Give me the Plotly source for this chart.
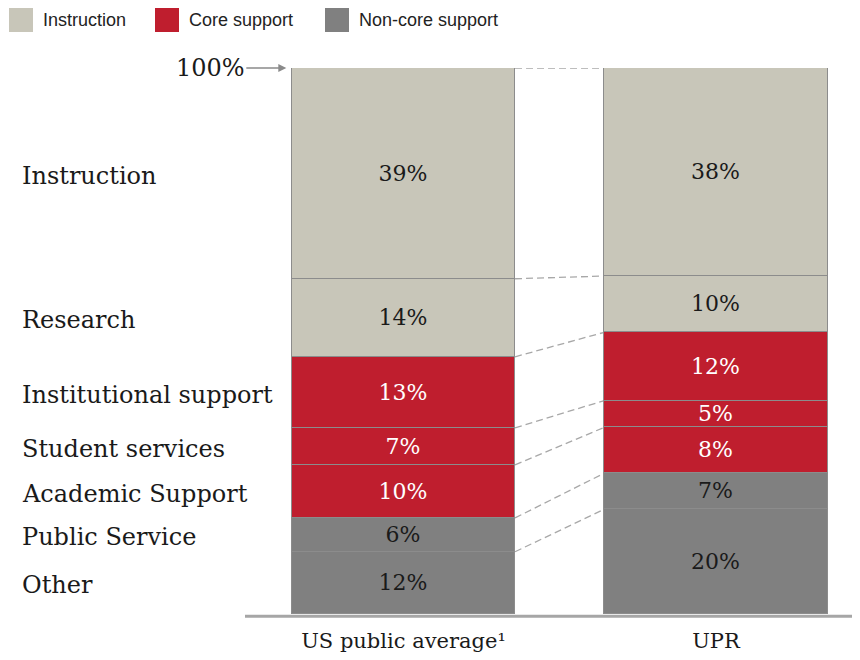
import numpy as np
import plotly.graph_objects as go

# ---------------- data ----------------
bars = ["US public average¹", "UPR"]
# categories from bottom of stack to top
categories = ["Other", "Public Service", "Academic Support", "Student services",
              "Institutional support", "Research", "Instruction"]
groups = ["Non-core support", "Non-core support", "Core support", "Core support",
          "Core support", "Instruction", "Instruction"]
us_values = [11.4, 6.2, 9.7, 6.8, 13.0, 14.3, 38.6]
upr_values = [19.2, 6.6, 8.4, 4.9, 12.5, 10.3, 38.1]
us_labels = ["12%", "6%", "10%", "7%", "13%", "14%", "39%"]
upr_labels = ["20%", "7%", "8%", "5%", "12%", "10%", "38%"]
legend_items = ["Instruction", "Core support", "Non-core support"]

# ---------------- style ----------------
colors = {"Instruction": "#C8C6B9", "Core support": "#BF1E2E", "Non-core support": "#808080"}
text_colors = {"Instruction": "#1a1a1a", "Core support": "#ffffff", "Non-core support": "#1a1a1a"}
SERIF = "DejaVu Serif, Georgia, serif"
SANS = "Liberation Sans, Arial, sans-serif"
OFF = 8  # page body margin
W, H = 860 - OFF, 660 - OFF
ML, MT = 248 - OFF, 68 - OFF
PB = 614 - OFF          # plot bottom (figure px)
PR = 860 - OFF          # plot right (figure px)
MR, MB = W - PR, H - PB
PW, PH = PR - ML, PB - MT
BAR_W = 0.714

def px2paper_x(px):  # px measured on the screenshot
    return (px - OFF - ML) / PW

def px2paper_y(py):
    return (PB - (py - OFF)) / PH

fig = go.Figure()
for i, cat in enumerate(categories):
    g = groups[i]
    fig.add_trace(go.Bar(
        x=bars, y=[us_values[i], upr_values[i]],
        text=[us_labels[i], upr_labels[i]],
        textposition="inside", insidetextanchor="middle", textangle=0,
        textfont=dict(family=SERIF, size=22, color=text_colors[g]),
        marker=dict(color=colors[g], line=dict(color="#8c8c8c", width=1)),
        width=BAR_W, name=cat, showlegend=False, hoverinfo="skip",
    ))

# connectors between bars
us_cum = np.cumsum(us_values)
upr_cum = np.cumsum(upr_values)
for k in range(len(categories)):
    fig.add_shape(type="line", xref="x", yref="y",
                  x0=0 + BAR_W / 2, y0=us_cum[k], x1=1 - BAR_W / 2, y1=upr_cum[k],
                  line=dict(color="#a8a8a8", width=1.3, dash="7px,4px"), layer="below")

# left category labels aligned with the US bar segments
us_mid = us_cum - np.array(us_values) / 2
for i, cat in enumerate(categories):
    fig.add_annotation(xref="paper", yref="y", x=px2paper_x(20), y=us_mid[i],
                       text=cat, showarrow=False, xanchor="left", yanchor="middle",
                       yshift=-2.5,
                       font=dict(family=SERIF, size=24, color="#1a1a1a"))

# 100% marker
fig.add_annotation(xref="x", yref="y", x=-BAR_W / 2 - 0.018, y=us_cum[-1],
                   text="100%", showarrow=True, arrowhead=2, arrowsize=1, arrowwidth=1.6,
                   arrowcolor="#8a8a8a", ax=-76, ay=0, standoff=0,
                   font=dict(family=SERIF, size=24, color="#1a1a1a"))

# baseline
fig.add_shape(type="line", xref="paper", yref="paper", x0=px2paper_x(245), x1=1,
              y0=-0.004, y1=-0.004, line=dict(color="#a6a6a6", width=3))

# custom legend
leg_x = [9, 155, 325]
for name, lx in zip(legend_items, leg_x):
    fig.add_shape(type="rect", xref="paper", yref="paper",
                  x0=px2paper_x(lx), x1=px2paper_x(lx + 24),
                  y0=px2paper_y(32), y1=px2paper_y(8),
                  fillcolor=colors[name], line=dict(width=0))
    fig.add_annotation(xref="paper", yref="paper", x=px2paper_x(lx + 32), y=px2paper_y(20),
                       text=name, showarrow=False, xanchor="left", yanchor="middle",
                       font=dict(family=SANS, size=18, color="#222222"))

fig.update_layout(
    width=W, height=H, barmode="stack", bargap=0,
    margin=dict(l=ML, r=MR, t=MT, b=MB),
    paper_bgcolor="white", plot_bgcolor="white",
    uniformtext=dict(minsize=22, mode="show"),
    xaxis=dict(range=[-0.4976, 1.461], showgrid=False, zeroline=False, showline=False,
               ticks="outside", ticklen=8, tickcolor="rgba(0,0,0,0)",
               tickfont=dict(family=SERIF, size=21, color="#1a1a1a")),
    yaxis=dict(range=[0, 100], visible=False),
    showlegend=False,
)

fig.write_html("out.html")
